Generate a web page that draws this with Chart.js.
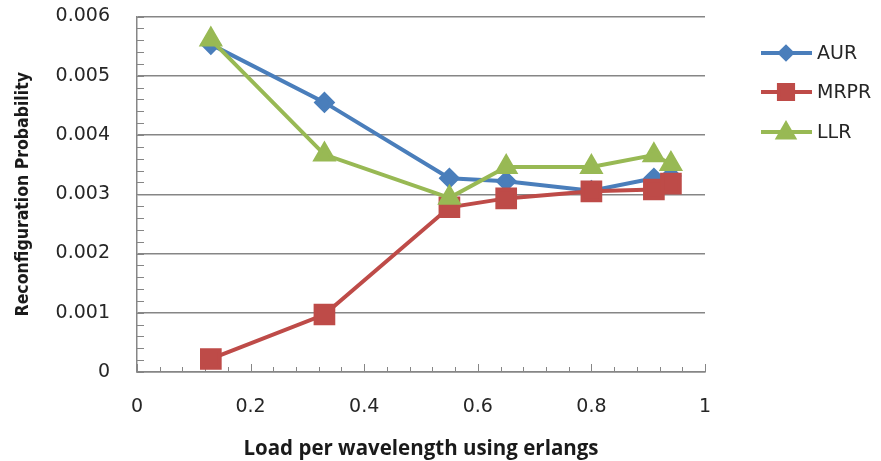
<!DOCTYPE html>
<html lang="en">
<head>
  <meta charset="UTF-8" />
  <title>Reconfiguration Probability</title>
  <script src="https://cdn.jsdelivr.net/npm/chart.js"></script>
  <style>
    body {
      margin: 0;
      background: #ffffff;
    }
    .chart-wrapper {
      position: relative;
      width: 881px;
      height: 461px;
    }
  </style>
</head>
<body>
  <div class="chart-wrapper">
    <canvas id="probChart" width="881" height="461"></canvas>
  </div>

  <script>
    // data
    const loads = [0.13, 0.33, 0.55, 0.65, 0.8, 0.91, 0.94];
    const aur = [0.00553, 0.00455, 0.00327, 0.00322, 0.00306, 0.00327, 0.00331];
    const mrpr = [0.00022, 0.00097, 0.00278, 0.00293, 0.00305, 0.00308, 0.00318];
    const llr = [0.00561, 0.00367, 0.00294, 0.00346, 0.00346, 0.00366, 0.00351];

    const seriesNames = ['AUR', 'MRPR', 'LLR'];
    const xTickLabels = ['0', '0.2', '0.4', '0.6', '0.8', '1'];
    const yTickLabels = ['0', '0.001', '0.002', '0.003', '0.004', '0.005', '0.006'];

    const gridGray = '#868686';
    const labelFont = { family: "'DejaVu Sans', Verdana, sans-serif", size: 19 };

    function points(values) {
      return values.map((v, i) => ({ x: loads[i], y: v }));
    }

    // fixed box sizes so the plot area sits where it does in the picture
    function fixBox(scale, w, h) {
      if (w) scale.width = w;
      if (h) scale.height = h;
      scale.paddingTop = 0;
      scale.paddingBottom = 0;
      scale.paddingLeft = 0;
      scale.paddingRight = 0;
    }

    // small inside tick marks like the original spreadsheet chart
    const insideTicks = {
      id: 'insideTicks',
      beforeDatasetsDraw(chart) {
        const ctx = chart.ctx;
        const xs = chart.scales.x;
        const ys = chart.scales.y;
        const area = chart.chartArea;
        ctx.save();
        ctx.strokeStyle = gridGray;
        ctx.lineWidth = 1;
        ctx.beginPath();
        for (let i = 0; i <= 30; i++) {
          const py = Math.round(ys.getPixelForValue(i * 0.0002)) + 0.5;
          ctx.moveTo(area.left, py);
          ctx.lineTo(area.left + 7, py);
        }
        for (let i = 0; i <= 25; i++) {
          const px = Math.round(xs.getPixelForValue(i * 0.04)) + 0.5;
          const len = i % 5 === 0 ? 8 : 5;
          ctx.moveTo(px, area.bottom);
          ctx.lineTo(px, area.bottom - len);
        }
        ctx.stroke();
        ctx.restore();
      }
    };

    // legend on the right, line + marker + name
    const sideLegend = {
      id: 'sideLegend',
      afterDraw(chart) {
        const ctx = chart.ctx;
        const rowsY = [53, 92, 132];
        const sizes = [6, 10, 9];
        chart.data.datasets.forEach((ds, i) => {
          const y = rowsY[i];
          ctx.save();
          ctx.strokeStyle = ds.borderColor;
          ctx.lineWidth = 4;
          ctx.beginPath();
          ctx.moveTo(761, y);
          ctx.lineTo(812, y);
          ctx.stroke();
          ctx.fillStyle = ds.pointBackgroundColor;
          ctx.strokeStyle = ds.pointBackgroundColor;
          Chart.helpers.drawPoint(ctx, {
            pointStyle: ds.pointStyle,
            radius: sizes[i],
            rotation: 0,
            borderWidth: 1
          }, 786, ds.pointStyle === 'triangle' ? y + 1 : y);
          ctx.fillStyle = '#262626';
          ctx.font = "19px 'DejaVu Sans', Verdana, sans-serif";
          ctx.textBaseline = 'middle';
          ctx.textAlign = 'left';
          ctx.fillText(seriesNames[i], 817, y + 1);
          ctx.restore();
        });
      }
    };

    const ctx = document.getElementById('probChart').getContext('2d');

    new Chart(ctx, {
      type: 'line',
      data: {
        datasets: [
          {
            label: seriesNames[0],
            data: points(aur),
            borderColor: '#4a7ebb',
            backgroundColor: '#4a7ebb',
            pointBackgroundColor: '#4a7ebb',
            pointBorderColor: '#4a7ebb',
            pointStyle: 'rectRot',
            pointRadius: 8,
            borderWidth: 4,
            order: 3
          },
          {
            label: seriesNames[1],
            data: points(mrpr),
            borderColor: '#be4b48',
            backgroundColor: '#be4b48',
            pointBackgroundColor: '#be4b48',
            pointBorderColor: '#be4b48',
            pointStyle: 'rect',
            pointRadius: 12.5,
            borderWidth: 4,
            order: 2
          },
          {
            label: seriesNames[2],
            data: points(llr),
            borderColor: '#98b954',
            backgroundColor: '#98b954',
            pointBackgroundColor: '#98b954',
            pointBorderColor: '#98b954',
            pointStyle: 'triangle',
            pointRadius: 10,
            borderWidth: 4,
            order: 1
          }
        ]
      },
      options: {
        responsive: false,
        animation: false,
        layout: {
          padding: { top: 15, right: 176, bottom: 0, left: 0 }
        },
        plugins: {
          legend: { display: false },
          tooltip: { enabled: false }
        },
        scales: {
          x: {
            type: 'linear',
            min: 0,
            max: 1,
            afterFit: (scale) => fixBox(scale, 0, 89),
            grid: { display: false, drawTicks: false },
            border: { display: true, color: gridGray, width: 1.5 },
            ticks: {
              stepSize: 0.2,
              padding: 24,
              color: '#262626',
              font: labelFont,
              maxRotation: 0,
              callback: (value, index) => xTickLabels[index]
            },
            title: {
              display: true,
              text: 'Load per wavelength using erlangs',
              color: '#1a1a1a',
              font: { family: "'Open Sans', sans-serif", size: 20.5, weight: 'bold' },
              padding: { top: 0, bottom: 0 }
            }
          },
          y: {
            min: 0,
            max: 0.006,
            afterFit: (scale) => fixBox(scale, 137, 0),
            grid: { color: gridGray, lineWidth: 1.5, drawTicks: false },
            border: { display: true, color: gridGray, width: 1.5 },
            ticks: {
              stepSize: 0.001,
              padding: 27,
              color: '#262626',
              font: labelFont,
              callback: (value, index) => yTickLabels[index]
            },
            title: {
              display: true,
              text: 'Reconfiguration Probability',
              color: '#1a1a1a',
              font: { family: "'Liberation Sans Narrow', 'DejaVu Sans Condensed', 'Arial Narrow', sans-serif", size: 17.5, weight: 'bold' },
              padding: { top: 13, bottom: 0 }
            }
          }
        }
      },
      plugins: [insideTicks, sideLegend]
    });
  </script>
</body>
</html>
